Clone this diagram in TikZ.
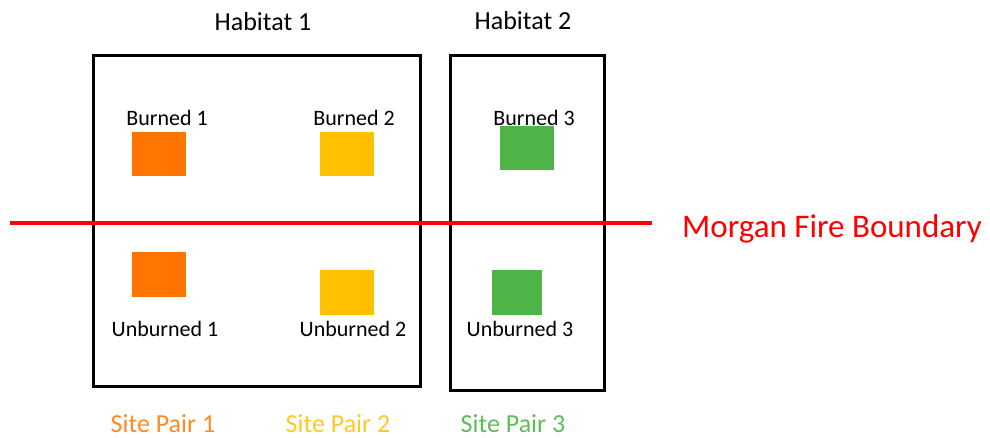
\documentclass[tikz,border=0pt]{standalone}
\usepackage{fontspec}
\setmainfont{Carlito}
\usetikzlibrary{positioning}
\definecolor{pairone}{RGB}{255,117,0}
\definecolor{pairtwo}{RGB}{255,192,0}
\definecolor{pairthree}{RGB}{78,180,72}
\definecolor{fireline}{RGB}{255,0,0}
\tikzset{habitat/.style={rectangle, draw, line width=3pt, inner sep=0pt}}
\tikzset{plot/.style={rectangle, minimum width=54pt, minimum height=44pt, inner sep=0pt}}
\tikzset{plotlabel/.style={inner sep=0pt, font=\fontsize{22}{26}\selectfont}}
\tikzset{title/.style={inner sep=0pt, font=\fontsize{26}{30}\selectfont}}

\begin{document}
\begin{tikzpicture}[x=1pt, y=-1pt]
    \useasboundingbox (0,0) rectangle (990,438);

    % habitats
    \node [habitat, minimum width=327pt, minimum height=330pt] (hab1) at (256.5,221) {};
    \node [habitat, minimum width=154pt, minimum height=334pt] (hab2) at (527,223) {};
    \node [title] (hab1title) at (263,22) {Habitat 1};
    \node [title] (hab2title) at (523,21) {Habitat 2};

    % fire boundary
    \coordinate (fireW) at (10,223);
    \coordinate (fireE) at (652,223);
    \draw [fireline, line width=4pt] (fireW) -- (fireE);
    \node [title, anchor=west, text=fireline, font=\fontsize{33}{38}\selectfont] (boundary) at (682,229) {Morgan Fire Boundary};

    % plots
    \node [plot, fill=pairone] (burn1) at (159,154) {};
    \node [plot, fill=pairtwo] (burn2) at (347,154) {};
    \node [plot, fill=pairthree] (burn3) at (527,148) {};
    \node [plot, fill=pairone] (unburn1) at (159,274.5) {};
    \node [plot, fill=pairtwo] (unburn2) at (347,292.5) {};
    \node [plot, fill=pairthree, minimum width=50pt] (unburn3) at (516.5,292.5) {};

    \node [plotlabel] (burn1lab) at (167,118) {Burned 1};
    \node [plotlabel] (burn2lab) at (354,118) {Burned 2};
    \node [plotlabel] (burn3lab) at (534,118) {Burned 3};
    \node [plotlabel] (unburn1lab) at (165,329) {Unburned 1};
    \node [plotlabel] (unburn2lab) at (353,329) {Unburned 2};
    \node [plotlabel] (unburn3lab) at (520,329) {Unburned 3};

    % site pairs
    \node [title, text=pairone!85!white] (pair1) at (163,424) {Site Pair 1};
    \node [title, text=pairtwo!85!white] (pair2) at (338,424) {Site Pair 2};
    \node [title, text=pairthree!90!white] (pair3) at (513,424) {Site Pair 3};

\end{tikzpicture}
\end{document}
